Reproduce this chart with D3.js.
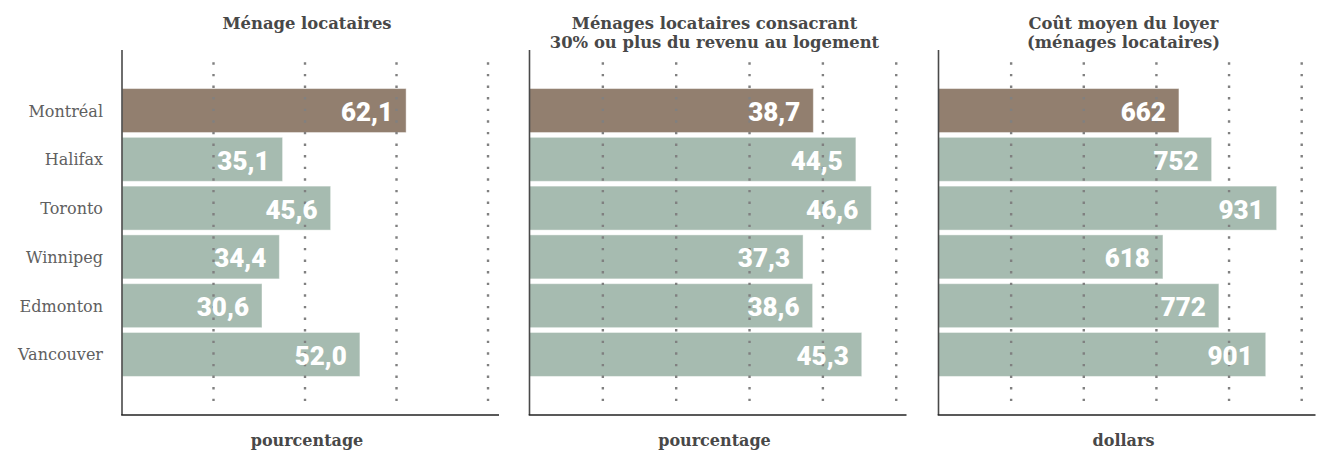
<!DOCTYPE html>
<html>
<head>
<meta charset="utf-8">
<script src="https://cdn.jsdelivr.net/npm/d3@7"></script>
<style>
  body { margin: 0; background: #fff; }
  svg { display: block; }
  .title, .unit { font-family: "DejaVu Serif", serif; font-weight: bold; fill: #484848; }
  .city { font-family: "DejaVu Serif", serif; fill: #606060; }
  .val { font-family: Roboto, sans-serif; font-weight: 900; fill: #fff; }
</style>
</head>
<body>
<svg width="1317" height="460"></svg>
<script>
// data
var cities = ["Montréal", "Halifax", "Toronto", "Winnipeg", "Edmonton", "Vancouver"];
var renters = [62.1, 35.1, 45.6, 34.4, 30.6, 52.0];
var rentBurden = [38.7, 44.5, 46.6, 37.3, 38.6, 45.3];
var avgRent = [662, 752, 931, 618, 772, 901];

var titles = [
  ["Ménage locataires"],
  ["Ménages locataires consacrant", "30% ou plus du revenu au logement"],
  ["Coût moyen du loyer", "(ménages locataires)"]
];
var units = ["pourcentage", "pourcentage", "dollars"];
var gridTicks = [[20, 40, 60, 80], [10, 20, 30, 40, 50], [200, 400, 600, 800, 1000]];
var domainMax = [82.4, 51.4, 1038];
var series = [renters, rentBurden, avgRent];

var svg = d3.select("svg");
var fr = d3.formatLocale({decimal: ",", thousands: " ", grouping: [3], currency: ["", " $"]});
var formats = [fr.format(".1f"), fr.format(".1f"), fr.format("d")];

var panelLeft = [122, 529.5, 938.5];
var plotW = 377;
var plotTop = 50, plotBottom = 415;

var y = d3.scaleBand()
    .domain(cities)
    .range([plotTop, plotBottom])
    .paddingInner(0.098)
    .paddingOuter(0.79);

// city labels, only on the first panel
svg.append("g").selectAll("text")
    .data(cities)
  .enter().append("text")
    .attr("class", "city")
    .attr("x", panelLeft[0] - 19)
    .attr("y", function(d) { return y(d) + y.bandwidth() / 2 + 6; })
    .attr("text-anchor", "end")
    .style("font-size", "16px")
    .text(function(d) { return d; });

series.forEach(function(values, p) {
  var x = d3.scaleLinear().domain([0, domainMax[p]]).range([panelLeft[p], panelLeft[p] + plotW]);
  var g = svg.append("g");
  var rows = cities.map(function(c, i) { return {city: c, value: values[i]}; });

  g.selectAll("rect")
      .data(rows)
    .enter().append("rect")
      .attr("x", x(0))
      .attr("y", function(d) { return y(d.city); })
      .attr("width", function(d) { return x(d.value) - x(0); })
      .attr("height", y.bandwidth())
      .attr("fill", function(d) { return d.city == "Montréal" ? "#927f6f" : "#a6bbb0"; })
      .attr("stroke", "rgba(255,255,255,0.45)")
      .attr("stroke-width", 1);

  // dotted grid, drawn over the bars
  g.selectAll("line.grid")
      .data(gridTicks[p])
    .enter().append("line")
      .attr("class", "grid")
      .attr("x1", function(d) { return x(d); })
      .attr("x2", function(d) { return x(d); })
      .attr("y1", 62.3)
      .attr("y2", 401)
      .attr("stroke", "#808080")
      .attr("stroke-width", 2.4)
      .attr("stroke-dasharray", "2.4,9.2");

  g.selectAll("text.val")
      .data(rows)
    .enter().append("text")
      .attr("class", "val")
      .attr("x", function(d) { return x(d.value) - 13; })
      .attr("y", function(d) { return y(d.city) + y.bandwidth() / 2 + 10.5; })
      .attr("text-anchor", "end")
      .style("font-size", "26px")
      .text(function(d) { return formats[p](d.value); });

  // axes
  g.append("line")
      .attr("x1", x(0)).attr("x2", x(0))
      .attr("y1", plotTop).attr("y2", plotBottom)
      .attr("stroke", "#4a4a4a").attr("stroke-width", 1.6);
  g.append("line")
      .attr("x1", x(0) - 0.8).attr("x2", panelLeft[p] + plotW)
      .attr("y1", plotBottom).attr("y2", plotBottom)
      .attr("stroke", "#222").attr("stroke-width", 1.6);

  var cx = panelLeft[p] + 185;
  g.selectAll("text.title")
      .data(titles[p])
    .enter().append("text")
      .attr("class", "title")
      .attr("x", cx)
      .attr("y", function(d, i) { return 29 + i * 18.7; })
      .attr("text-anchor", "middle")
      .style("font-size", "16.4px")
      .text(function(d) { return d; });

  g.append("text")
      .attr("class", "unit")
      .attr("x", cx)
      .attr("y", 446)
      .attr("text-anchor", "middle")
      .style("font-size", "16px")
      .text(units[p]);
});
</script>
</body>
</html>
